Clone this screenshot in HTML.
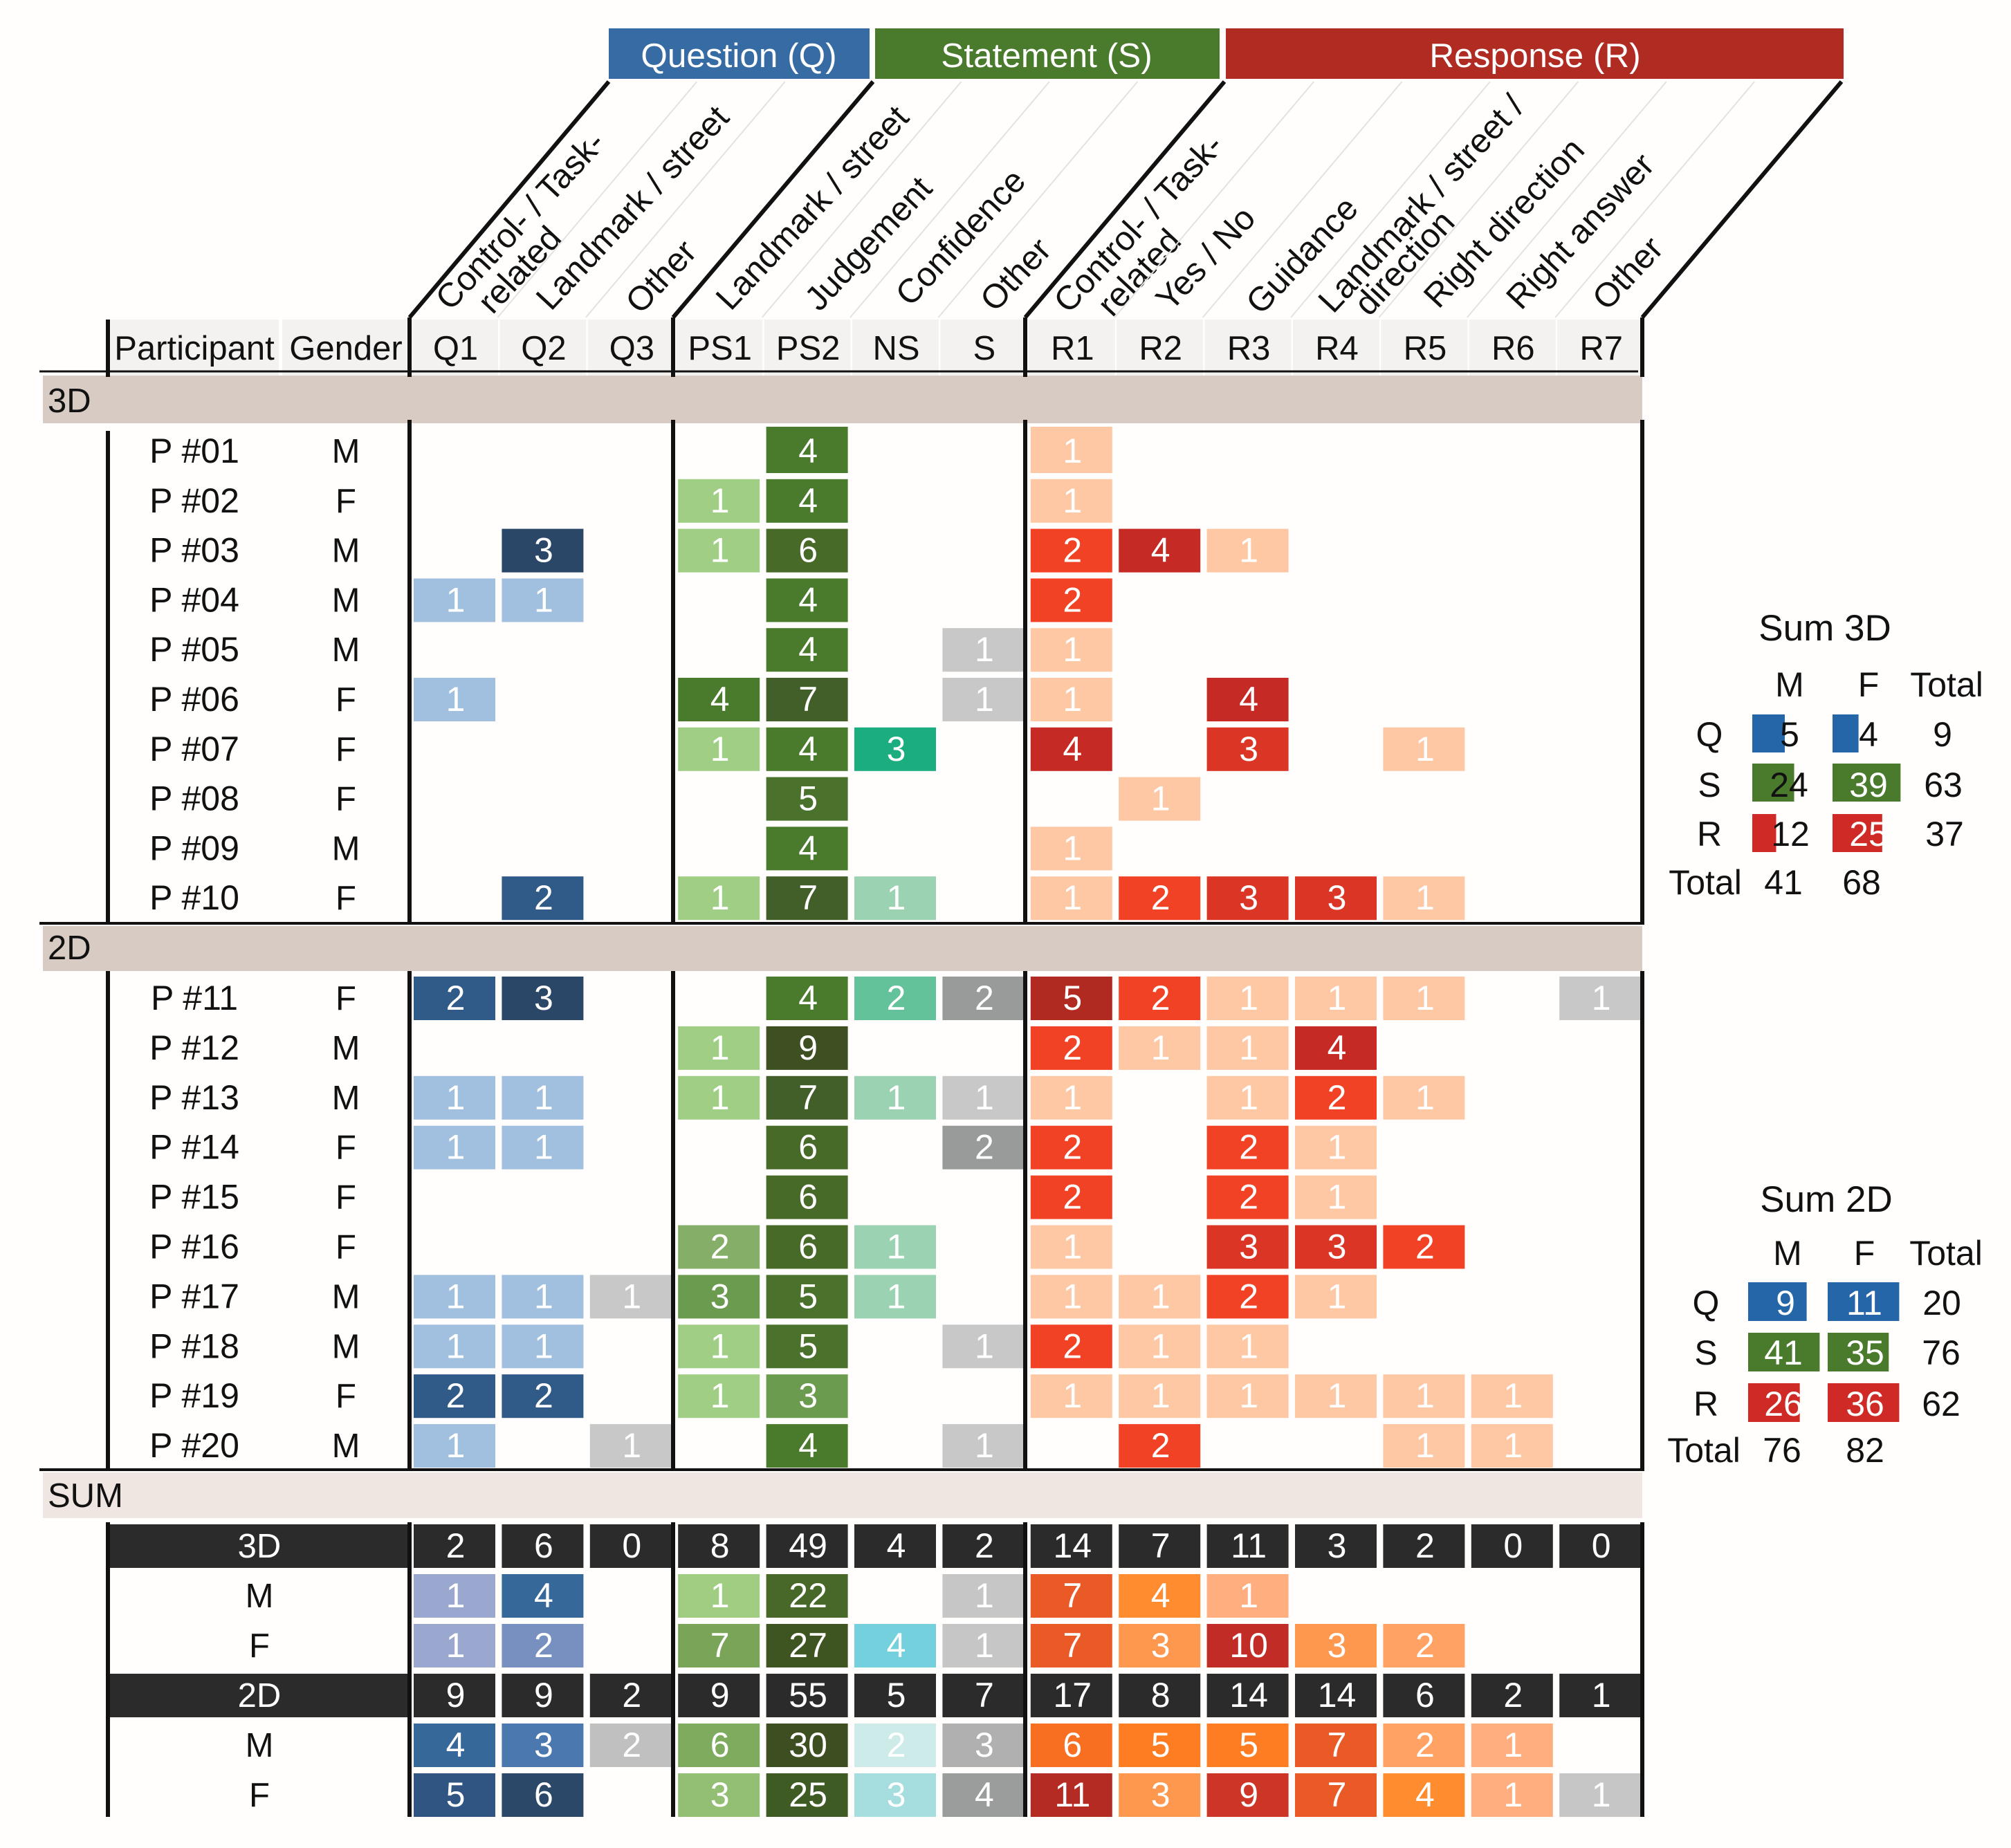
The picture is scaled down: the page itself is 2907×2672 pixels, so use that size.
<!DOCTYPE html>
<html lang="en">
<head>
<meta charset="utf-8">
<title>Utterance categories per participant</title>
<style>
html,body{margin:0;padding:0;background:#fffefd;}
#wrap{width:2907px;height:2672px;overflow:hidden;}
svg{display:block;}
text{font-family:"Liberation Sans",Arial,sans-serif;fill:#111;}
</style>
</head>
<body>
<div id="wrap">
<svg id="chart" xmlns="http://www.w3.org/2000/svg" width="2907" height="2672" viewBox="0 0 2907 2672">
  <rect x="0" y="0" width="2907" height="2672" fill="#fffefd"/>
  <rect x="880" y="41" width="377" height="73" fill="#366ca3"/>
  <rect x="1265" y="41" width="498" height="73" fill="#4a7a2c"/>
  <rect x="1772" y="41" width="893" height="73" fill="#b02c22"/>
  <text x="1068" y="97" font-size="49.5" text-anchor="middle" style="fill:#fff">Question (Q)</text>
  <text x="1513" y="97" font-size="49.5" text-anchor="middle" style="fill:#fff">Statement (S)</text>
  <text x="2219" y="97" font-size="49.5" text-anchor="middle" style="fill:#fff">Response (R)</text>

  <rect x="62" y="543" width="2312" height="69" fill="#d7cbc4"/>
  <rect x="62" y="1339" width="2312" height="65" fill="#d7cbc4"/>
  <rect x="62" y="2129" width="2312" height="66" fill="#efe6e2"/>
  <text x="69" y="596" font-size="49">3D</text>
  <text x="69" y="1387" font-size="49">2D</text>
  <text x="69" y="2179" font-size="49">SUM</text>

  <rect x="160" y="462" width="243" height="81" fill="#f3f2f1"/>
  <rect x="408" y="462" width="180" height="81" fill="#f3f2f1"/>
  <text x="281" y="520" font-size="49" text-anchor="middle">Participant</text>
  <text x="500" y="520" font-size="49" text-anchor="middle">Gender</text>

  <g id="headers"></g>
  <g id="cells"></g>
  <g id="frame"></g>
  <g id="legends"></g>
</svg>
</div>
<script>
// ---- data ----
const columns = ['Q1','Q2','Q3','PS1','PS2','NS','S','R1','R2','R3','R4','R5','R6','R7'];
const columnFamilies = ['Q','Q','G','PS','PS','NS','G','R','R','R','R','R','R','G'];
const columnLabels = [
  ['Control- / Task-','related'],['Landmark / street'],['Other'],
  ['Landmark / street'],['Judgement'],['Confidence'],['Other'],
  ['Control- / Task-','related'],['Yes / No'],['Guidance'],['Landmark / street /','direction'],
  ['Right direction'],['Right answer'],['Other']
];
const participants3D = ['P #01','P #02','P #03','P #04','P #05','P #06','P #07','P #08','P #09','P #10'];
const genders3D = ['M','F','M','M','M','F','F','F','M','F'];
const values3D = [
  [0,0,0,0,4,0,0,1,0,0,0,0,0,0],
  [0,0,0,1,4,0,0,1,0,0,0,0,0,0],
  [0,3,0,1,6,0,0,2,4,1,0,0,0,0],
  [1,1,0,0,4,0,0,2,0,0,0,0,0,0],
  [0,0,0,0,4,0,1,1,0,0,0,0,0,0],
  [1,0,0,4,7,0,1,1,0,4,0,0,0,0],
  [0,0,0,1,4,3,0,4,0,3,0,1,0,0],
  [0,0,0,0,5,0,0,0,1,0,0,0,0,0],
  [0,0,0,0,4,0,0,1,0,0,0,0,0,0],
  [0,2,0,1,7,1,0,1,2,3,3,1,0,0]
];
const participants2D = ['P #11','P #12','P #13','P #14','P #15','P #16','P #17','P #18','P #19','P #20'];
const genders2D = ['F','M','M','F','F','F','M','M','F','M'];
const values2D = [
  [2,3,0,0,4,2,2,5,2,1,1,1,0,1],
  [0,0,0,1,9,0,0,2,1,1,4,0,0,0],
  [1,1,0,1,7,1,1,1,0,1,2,1,0,0],
  [1,1,0,0,6,0,2,2,0,2,1,0,0,0],
  [0,0,0,0,6,0,0,2,0,2,1,0,0,0],
  [0,0,0,2,6,1,0,1,0,3,3,2,0,0],
  [1,1,1,3,5,1,0,1,1,2,1,0,0,0],
  [1,1,0,1,5,0,1,2,1,1,0,0,0,0],
  [2,2,0,1,3,0,0,1,1,1,1,1,1,0],
  [1,0,1,0,4,0,1,0,2,0,0,1,1,0]
];
const sumRowLabels = ['3D','M','F','2D','M','F'];
const sumValues = [
  [2,6,0,8,49,4,2,14,7,11,3,2,0,0],
  [1,4,0,1,22,0,1,7,4,1,0,0,0,0],
  [1,2,0,7,27,4,1,7,3,10,3,2,0,0],
  [9,9,2,9,55,5,7,17,8,14,14,6,2,1],
  [4,3,2,6,30,2,3,6,5,5,7,2,1,0],
  [5,6,0,3,25,3,4,11,3,9,7,4,1,1]
];
const legendRows = ['Q','S','R'];
const legend3DMale = [5,24,12];
const legend3DFemale = [4,39,25];
const legend3DTotal = [9,63,37];
const legend3DColTotals = [41,68];
const legend2DMale = [9,41,26];
const legend2DFemale = [11,35,36];
const legend2DTotal = [20,76,62];
const legend2DColTotals = [76,82];

// ---- colour maps ----
const cellPalette = {
  Q:{1:'#a1bfde',2:'#305a87',3:'#2b4768'},
  PS:{1:'#a1ce85',2:'#85af68',3:'#6b9b4e',4:'#4a7a2c',5:'#4a722c',6:'#476a29',7:'#435f29',9:'#3e4f21'},
  NS:{1:'#9bd3b2',2:'#63c29a',3:'#1bad7f'},
  G:{1:'#c8c8c8',2:'#999b9b'},
  R:{1:'#fec8a5',2:'#f24226',3:'#db3526',4:'#c52b24',5:'#b12a22'}
};
const sumPalette = {
  Q:{1:'#9aa7cf',2:'#7890c0',3:'#4b78ae',4:'#37689a',5:'#315582',6:'#2c4868'},
  PS:{1:'#a0cd82',3:'#93bf74',6:'#7eab5e',7:'#7aa559',22:'#476828',25:'#3f5b24',27:'#3e5522',30:'#3d4f20'},
  NS:{2:'#cdebe9',3:'#a6dee0',4:'#75d0dd'},
  G:{1:'#c6c6c6',2:'#c0c0c0',3:'#b0b0b0',4:'#9b9c9c'},
  R:{1:'#ffae80',2:'#ffa263',3:'#ff984f',4:'#ff8d2f',5:'#ff7d22',6:'#f96f22',7:'#e95a26',9:'#cd3626',10:'#c12c26',11:'#b32b22'}
};
const legendColors = ['#2566a8','#4a7a2c','#cf2a25'];
const labelOffsets = [[-6,-8],[12,-8],[14,-3],[17,-8],[18,-7],[22,-14],[17,-6],[-4,-4],[16,-7],[19,-2],[-4,-4],[21,-11],[13,-9],[10,-8]];
const secondLineOffsets = {0:[61,5],7:[63,5],10:[52,4]};

// ---- scales ----
const NS = 'http://www.w3.org/2000/svg';
const CELL_W = 118, CELL_H = 63;
function xCol(i){ return 598 + 127.4*i; }
function yRow3D(i){ return 621 + 71.8*i; }
function yRow2D(i){ return 1412 + 71.9*i; }
function ySum(i){ return 2204 + 72*i; }
function colorFor(pal, fam, v){
  if (pal[fam][v]) return pal[fam][v];
  const keys = Object.keys(pal[fam]).map(Number).sort((a,b)=>a-b);
  let best = keys[0];
  keys.forEach(k=>{ if (Math.abs(k-v) < Math.abs(best-v)) best = k; });
  return pal[fam][best];
}
function make(tag, attrs, parent, txt){
  const n = document.createElementNS(NS, tag);
  for (const k in attrs) n.setAttribute(k, attrs[k]);
  if (txt !== undefined) n.textContent = txt;
  parent.appendChild(n);
  return n;
}

// ---- column headers and slanted labels ----
const headers = document.getElementById('headers');
columns.forEach((c,i)=>{
  const cell = make('rect',{x:xCol(i)-3,y:462,width:125,height:81,fill:'#f3f2f1'},headers);
  
  
  const t = make('text',{x:xCol(i)+60.5,y:520,'font-size':49,'text-anchor':'middle'},headers,c);
  
  
  const bx = 592 + 127.4*i;
  if (i>0 && i!==3 && i!==7){
    const d = make('line',{x1:bx,y1:459,x2:bx+288,y2:118,stroke:'#e2e2e2','stroke-width':2},headers);
    
    
  }
  const ox = xCol(i)+59+labelOffsets[i][0];
  const oy = 459+labelOffsets[i][1];
  columnLabels[i].forEach((line,k)=>{
    const off = secondLineOffsets[i] || [0,0];
    const lx = ox + k*off[0], ly = oy + k*off[1];
    const s = make('text',{x:lx,y:ly,'font-size':49,transform:'rotate(-47 '+lx+' '+ly+')'},headers,line);
    
    
  });
});

// ---- cell tables ----
const cells = document.getElementById('cells');
function drawParticipants(names, genders, values, yFn, section){
  names.forEach((nm,r)=>{
    const y = yFn(r);
    const extra = (section==='3d' && r===0) ? 4 : 0;
    const a = make('text',{x:281,y:y+48,'font-size':50,'text-anchor':'middle'},cells,nm);
    
    
    const b = make('text',{x:500,y:y+48,'font-size':49,'text-anchor':'middle'},cells,genders[r]);
    
    
    values[r].forEach((v,c)=>{
      if (!v) return;
      const q = make('rect',{x:xCol(c),y:y-extra,width:CELL_W,height:CELL_H+extra,fill:colorFor(cellPalette,columnFamilies[c],v)},cells);
      
      
      const t = make('text',{x:xCol(c)+CELL_W/2+1.5,y:y+48,'font-size':50,'text-anchor':'middle',style:'fill:#fff'},cells,String(v));
      
      
    });
  });
}
drawParticipants(participants3D, genders3D, values3D, yRow3D, '3d');
drawParticipants(participants2D, genders2D, values2D, yRow2D, '2d');

sumRowLabels.forEach((lab,r)=>{
  const y = ySum(r);
  const dark = (r%3===0);
  if (dark){
    const bg = make('rect',{x:158,y:y,width:431,height:CELL_H,fill:'#2b2b2b'},cells);
    
    
  }
  const l = make('text',{x:375,y:y+48,'font-size':49,'text-anchor':'middle',style:'fill:'+(dark?'#fff':'#111')},cells,lab);
  
  
  sumValues[r].forEach((v,c)=>{
    if (!dark && !v) return;
    const col = dark ? '#2b2b2b' : colorFor(sumPalette,columnFamilies[c],v);
    const q = make('rect',{x:xCol(c),y:y,width:CELL_W,height:CELL_H,fill:col},cells);
    
    
    const t = make('text',{x:xCol(c)+CELL_W/2+1.5,y:y+48,'font-size':50,'text-anchor':'middle',style:'fill:#fff'},cells,String(v));
    
    
  });
});

// ---- frame lines ----
const frame = document.getElementById('frame');
const frameX = [156,592,973,1482,2374];
const frameSegments = [[459,545],[607,1337],[1404,2127],[2201,2627]];
frameX.forEach((x,xi)=>{
  frameSegments.forEach((seg,si)=>{
    let top = seg[0];
    if (xi===0 && si===0) top = 462;
    if (xi===0 && si===1) top = 623;
    const v = make('line',{x1:x,y1:top,x2:x,y2:seg[1],stroke:'#111','stroke-width':6},frame);
    
    
  });
});
const frameDiagonals = [[592,880],[973,1262],[1482,1770],[2374,2662]];
frameDiagonals.forEach(d=>{
  const l = make('line',{x1:d[0],y1:459,x2:d[1],y2:118,stroke:'#111','stroke-width':6},frame);
  
  
});
const frameRules = [[537,3],[1335,4],[2125,4]];
frameRules.forEach(r=>{
  const l = make('line',{x1:57,y1:r[0],x2:r[0]===537?2368:2374,y2:r[0],stroke:'#111','stroke-width':r[1]},frame);
  
  
});

// ---- summary tables ----
const legends = document.getElementById('legends');
const LEGEND_BAR_MAX = 103.4;
function legendDomain(r){
  return Math.max(legend3DMale[r],legend3DFemale[r],legend2DMale[r],legend2DFemale[r]);
}
function legendWidth(v,r){ return v/legendDomain(r)*LEGEND_BAR_MAX; }
function drawLegend(cfg){
  function txt(x,y,s,fill,name){
    const t = make('text',{x:x,y:y,'font-size':50,'text-anchor':'middle',style:'fill:'+(fill||'#111')},legends,String(s));
    
    
    return t;
  }
  const title = txt(cfg.titleX,cfg.titleY,cfg.title,'#111','summary-title');
  title.setAttribute('font-size','53');
  txt(cfg.mHeadX,cfg.headY,'M','#111','summary-male-header');
  txt(cfg.fHeadX,cfg.headY,'F','#111','summary-female-header');
  txt(cfg.totHeadX,cfg.headY,'Total','#111','summary-total-header');
  legendRows.forEach((lab,r)=>{
    txt(cfg.rowLabelX,cfg.rowY[r],lab,'#111','summary-row-label');
    [[cfg.male,cfg.barXM,cfg.mValX],[cfg.female,cfg.barXF,cfg.fValX]].forEach(p=>{
      const v = p[0][r];
      const b = make('rect',{x:p[1],y:cfg.barY[r],width:legendWidth(v,r),height:cfg.barH,fill:legendColors[r]},legends);
      
      
      const white = v/legendDomain(r) >= 0.6;
      txt(p[2][r],cfg.rowY[r],v,white?'#fff':'#111','summary-value');
    });
    txt(cfg.totX[r],cfg.rowY[r],cfg.total[r],'#111','summary-row-total');
  });
  txt(cfg.totLabelX,cfg.totRowY,'Total','#111','summary-total-row-label');
  txt(cfg.colTotX[0],cfg.totRowY,cfg.colTot[0],'#111','summary-male-total');
  txt(cfg.colTotX[1],cfg.totRowY,cfg.colTot[1],'#111','summary-female-total');
}
drawLegend({title:'Sum 3D',titleX:2638,titleY:926,mHeadX:2587,fHeadX:2701,totHeadX:2814,headY:1007,
  rowLabelX:2471,rowY:[1079,1152,1223],barXM:2533,barXF:2649,barY:[1033,1104,1177],barH:55,
  male:legend3DMale,female:legend3DFemale,total:legend3DTotal,
  mValX:[2587,2586,2588],fValX:[2701,2701,2701],totX:[2808,2809,2811],
  totLabelX:2465,totRowY:1293,colTot:legend3DColTotals,colTotX:[2578,2691]});
drawLegend({title:'Sum 2D',titleX:2640,titleY:1752,mHeadX:2584,fHeadX:2695,totHeadX:2813,headY:1829,
  rowLabelX:2466,rowY:[1901,1973,2047],barXM:2527,barXF:2642,barY:[1854,1927,2000],barH:56,
  male:legend2DMale,female:legend2DFemale,total:legend2DTotal,
  mValX:[2581,2578,2578],fValX:[2695,2696,2696],totX:[2807,2806,2806],
  totLabelX:2463,totRowY:2114,colTot:legend2DColTotals,colTotX:[2576,2696]});
</script>
</body>
</html>
